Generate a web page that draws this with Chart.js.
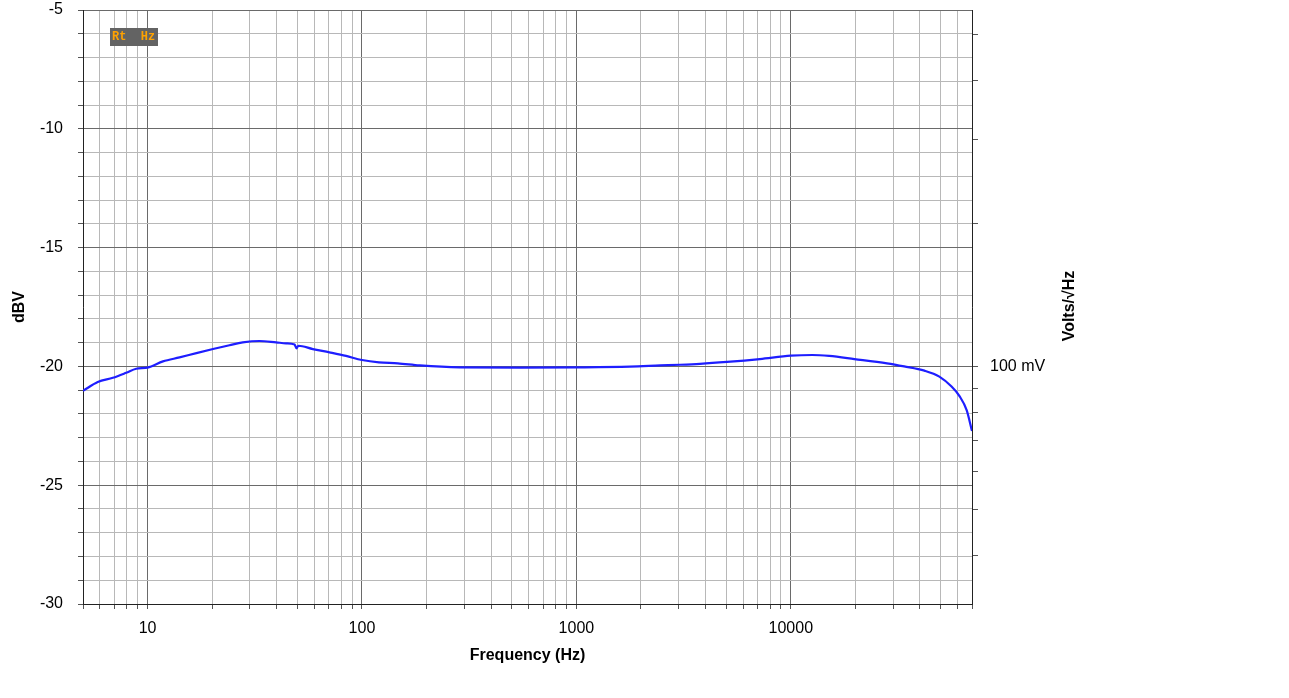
<!DOCTYPE html>
<html>
<head>
<meta charset="utf-8">
<title>Noise spectrum</title>
<script src="https://cdn.jsdelivr.net/npm/chart.js@4.4.0/dist/chart.umd.min.js"></script>
<style>
  html, body { margin: 0; padding: 0; background: #fff; }
  #wrap { width: 1289px; height: 698px; }
</style>
</head>
<body>
<div id="wrap"><canvas id="chart" width="1289" height="698"></canvas></div>
<script>
const freqHz = [5, 5.86, 6.89, 7.95, 8.85, 10, 11.8, 14.1, 16.9, 20.2, 24.1, 27.8, 33.3, 39.8, 44.3,
  48.5, 49.5, 50.5, 59, 70.5, 84.3, 100, 120, 147, 186, 286, 545, 1000, 1776, 2460, 3040, 3770,
  5040, 7170, 10000, 12600, 15100, 19800, 28100, 33800, 42000, 49300, 56200, 61200, 66100, 70000];
const levelDbv = [-21.03, -20.66, -20.48, -20.27, -20.10, -20.05, -19.79, -19.62, -19.44, -19.27, -19.11, -18.99, -18.93, -18.99, -19.03,
  -19.08, -19.24, -19.13, -19.27, -19.41, -19.56, -19.73, -19.83, -19.87, -19.96, -20.04, -20.05, -20.04, -20.01, -19.96, -19.93, -19.89,
  -19.81, -19.69, -19.55, -19.52, -19.56, -19.69, -19.87, -20.0, -20.18, -20.43, -20.85, -21.25, -21.84, -22.72];

// axis ticks
const freqTicks = [5, 6, 7, 8, 9, 10, 20, 30, 40, 50, 60, 70, 80, 90, 100, 200, 300, 400, 500, 600, 700, 800, 900,
  1000, 2000, 3000, 4000, 5000, 6000, 7000, 8000, 9000, 10000, 20000, 30000, 40000, 50000, 60000, 70000];
const freqLabels = [10, 100, 1000, 10000];
const dbvTicks = [-30, -29, -28, -27, -26, -25, -24, -23, -22, -21, -20, -19, -18, -17, -16, -15,
  -14, -13, -12, -11, -10, -9, -8, -7, -6, -5];
const dbvLabels = [-30, -25, -20, -15, -10, -5];
const voltTicksMv = [40, 50, 60, 70, 80, 90, 100, 200, 300, 400, 500];
const voltLabelsMv = [100];

const labelFont = { family: '"Liberation Sans", Arial, sans-serif', size: 16 };
const titleFont = { family: '"Liberation Sans", Arial, sans-serif', size: 16, weight: 'bold' };
const majorGrid = '#6a6a6a';
const minorGrid = '#b8b8b8';

function isDecade(v) {
  const l = Math.log10(v);
  return Math.abs(l - Math.round(l)) < 1e-9;
}

// keep the plot box fixed: no extra room for the end labels
function noEdgePadding(s) {
  s.paddingTop = 0;
  s.paddingBottom = 0;
  s.paddingLeft = 0;
  s.paddingRight = 0;
}

// badge in the corner + right axis title (reads bottom to top)
const extras = {
  id: 'extras',
  afterDraw(chart) {
    const { ctx, chartArea } = chart;
    ctx.save();
    ctx.fillStyle = '#636363';
    ctx.fillRect(chartArea.left + 27, chartArea.top + 18, 48, 18);
    ctx.fillStyle = '#ffa200';
    ctx.font = 'bold 12px "Liberation Mono", "DejaVu Sans Mono", monospace';
    ctx.textBaseline = 'middle';
    ctx.textAlign = 'left';
    ctx.fillText('Rt  Hz', chartArea.left + 29, chartArea.top + 27);

    ctx.translate(1070, 306);
    ctx.rotate(-Math.PI / 2);
    ctx.fillStyle = '#000';
    ctx.font = 'bold 16px "Liberation Sans", Arial, sans-serif';
    ctx.textAlign = 'center';
    ctx.fillText('Volts/\u221AHz', 0, 0);
    ctx.restore();
  }
};

const points = freqHz.map((f, i) => ({ x: f, y: levelDbv[i] }));

new Chart(document.getElementById('chart'), {
  type: 'line',
  data: {
    datasets: [{
      data: points,
      borderColor: '#1e1eff',
      borderWidth: 2.2,
      pointRadius: 0,
      cubicInterpolationMode: 'monotone',
      fill: false,
      xAxisID: 'x',
      yAxisID: 'y'
    }]
  },
  options: {
    responsive: false,
    animation: false,
    devicePixelRatio: 1,
    layout: { padding: { top: 10, left: 0, right: 0, bottom: 0 } },
    plugins: { legend: { display: false }, tooltip: { enabled: false } },
    scales: {
      x: {
        type: 'logarithmic',
        min: 5,
        max: 70000,
        afterBuildTicks: s => { s.ticks = freqTicks.map(v => ({ value: v })); },
        afterFit: s => { s.height = 94; noEdgePadding(s); },
        ticks: {
          autoSkip: false, maxRotation: 0, padding: 10, color: '#000', font: labelFont,
          callback: v => freqLabels.includes(v) ? String(v) : ''
        },
        grid: {
          color: c => isDecade(c.tick.value) ? majorGrid : minorGrid,
          tickColor: '#555', tickLength: 5, lineWidth: 1
        },
        border: { color: '#222', width: 1 },
        title: { display: true, text: 'Frequency (Hz)', color: '#000', font: titleFont, padding: { top: 0, bottom: 33 } }
      },
      y: {
        min: -30,
        max: -5,
        afterBuildTicks: s => { s.ticks = dbvTicks.map(v => ({ value: v })); },
        afterFit: s => { s.width = 83; noEdgePadding(s); },
        ticks: {
          autoSkip: false, padding: 15, color: '#000', font: labelFont,
          callback: v => dbvLabels.includes(v) ? String(v) : ''
        },
        grid: {
          color: c => c.tick.value % 5 === 0 ? majorGrid : minorGrid,
          tickColor: '#555', tickLength: 5, lineWidth: 1
        },
        border: { color: '#222', width: 1 },
        title: { display: true, text: 'dBV', color: '#000', font: titleFont, padding: { top: 10, bottom: 0 } }
      },
      y2: {
        position: 'right',
        min: -30,
        max: -5,
        afterBuildTicks: s => { s.ticks = voltTicksMv.map(mv => ({ value: 20 * Math.log10(mv / 1000) })); },
        afterFit: s => { s.width = 1289 - 972; noEdgePadding(s); },
        ticks: {
          autoSkip: false, padding: 12, color: '#000', font: labelFont,
          callback: (v, i) => voltLabelsMv.includes(voltTicksMv[i]) ? voltTicksMv[i] + ' mV' : ''
        },
        grid: { drawOnChartArea: false, tickColor: '#555', tickLength: 6 },
        border: { color: '#222', width: 1 }
      }
    }
  },
  plugins: [extras]
});
</script>
</body>
</html>
